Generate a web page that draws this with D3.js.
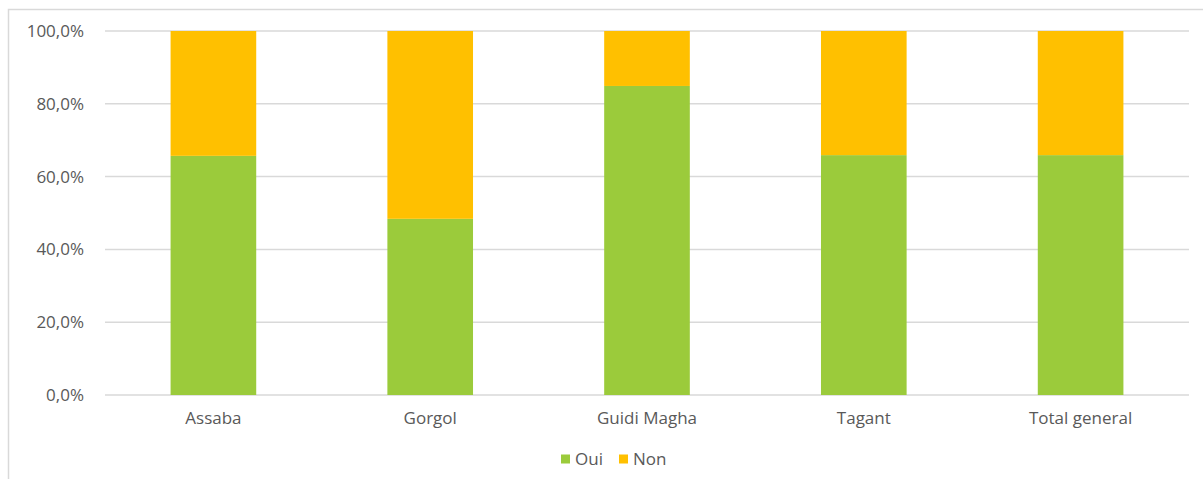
<!DOCTYPE html>
<html><head><meta charset="utf-8">
<script src="https://cdn.jsdelivr.net/npm/d3@7"></script>
<style>
html,body{margin:0;padding:0;background:#fff;}
svg{display:block;}
text{font-family:"Open Sans","Liberation Sans",sans-serif;fill:#595959;}
</style></head>
<body>
<svg id="chart" width="1203" height="479"></svg>
<script>
const categories = ["Assaba", "Gorgol", "Guidi Magha", "Tagant", "Total general"];
const seriesNames = ["Oui", "Non"];
const oui = [65.7, 48.4, 84.9, 65.9, 65.9];
const non = oui.map(v => 100 - v);
const colors = ["#9BCB3B", "#FFC000"];
const yTicks = [0, 20, 40, 60, 80, 100];

const svg = d3.select("#chart");
const W = 1203, H = 479;
const pLeft = 105, pRight = 1189, pTop = 31, pBottom = 395;
const FS = "17px";

// frame
svg.append("path")
  .attr("d", `M8.5,${H} L8.5,9.5 L${W},9.5`)
  .attr("fill", "none").attr("stroke", "#d9d9d9").attr("stroke-width", 1.5);

const x = d3.scaleBand().domain(categories).range([pLeft, pRight]).paddingInner(0.605).paddingOuter(0.3025);
const y = d3.scaleLinear().domain([0, 100]).range([pBottom, pTop]);

// gridlines
svg.append("g").selectAll("line").data(yTicks).join("line")
  .attr("x1", pLeft).attr("x2", pRight)
  .attr("y1", d => y(d)).attr("y2", d => y(d))
  .attr("stroke", "#d9d9d9").attr("stroke-width", 1.5);

// y axis labels
const fmt = d => d3.format(".1f")(d).replace(".", ",") + "%";
const yAxis = d3.axisLeft(y).tickValues(yTicks).tickFormat(fmt).tickSize(0).tickPadding(0);
const yg = svg.append("g").attr("transform", `translate(84,0)`).call(yAxis);
yg.select(".domain").remove();
yg.selectAll("text").attr("font-size", FS).style("font-family", '"Open Sans","Liberation Sans",sans-serif').attr("fill", "#595959");

// stacked bars
const data = categories.map((c, i) => ({cat: c, Oui: oui[i], Non: non[i]}));
const stack = d3.stack().keys(seriesNames)(data);
svg.append("g").selectAll("g").data(stack).join("g")
  .attr("fill", (d, i) => colors[i])
  .selectAll("rect").data(d => d).join("rect")
  .attr("x", d => x(d.data.cat))
  .attr("width", x.bandwidth())
  .attr("y", d => y(d[1]))
  .attr("height", d => y(d[0]) - y(d[1]));

// x axis labels
const xAxis = d3.axisBottom(x).tickSize(0).tickPadding(0);
const xg = svg.append("g").attr("transform", `translate(0,${pBottom + 17})`).call(xAxis);
xg.select(".domain").remove();
xg.selectAll("text").attr("font-size", FS).attr("dy", "0.71em").style("font-family", '"Open Sans","Liberation Sans",sans-serif').attr("fill", "#595959");

// legend
const legend = svg.append("g");
const legX = [561, 619];
seriesNames.forEach((s, i) => {
  legend.append("rect").attr("x", legX[i]).attr("y", 454.5).attr("width", 9).attr("height", 9).attr("fill", colors[i]);
  legend.append("text").attr("x", legX[i] + 14).attr("y", 459).attr("dy", "0.35em")
    .attr("font-size", FS).text(s);
});
</script>
</body></html>
